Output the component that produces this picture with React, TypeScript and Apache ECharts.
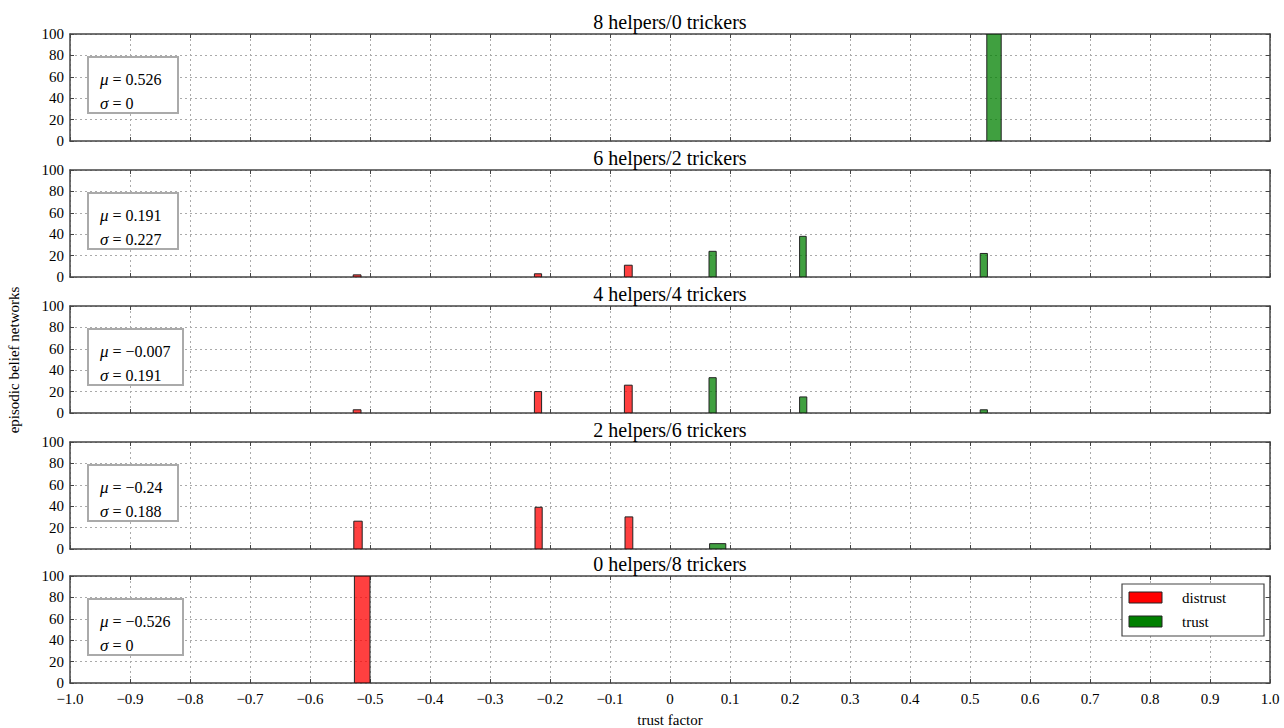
import React, { useEffect, useRef } from "react";
import * as echarts from "echarts";

// ---- data ----
const panelTitles = [
  "8 helpers/0 trickers",
  "6 helpers/2 trickers",
  "4 helpers/4 trickers",
  "2 helpers/6 trickers",
  "0 helpers/8 trickers",
];
const muValues = ["0.526", "0.191", "\u22120.007", "\u22120.24", "\u22120.526"];
const sigmaValues = ["0", "0.227", "0.191", "0.188", "0"];

// each bar: [left edge, right edge, count]
const distrustBars: number[][][] = [
  [],
  [[-0.528, -0.515, 2], [-0.226, -0.214, 3], [-0.076, -0.063, 11]],
  [[-0.528, -0.515, 3], [-0.226, -0.214, 20], [-0.076, -0.063, 26]],
  [[-0.527, -0.513, 26], [-0.225, -0.213, 39], [-0.075, -0.062, 30]],
  [[-0.526, -0.5, 100]],
];
const trustBars: number[][][] = [
  [[0.528, 0.552, 100]],
  [[0.065, 0.077, 24], [0.216, 0.227, 38], [0.517, 0.529, 22]],
  [[0.065, 0.077, 33], [0.216, 0.228, 15], [0.517, 0.529, 3]],
  [[0.066, 0.093, 5]],
  [],
];
const legendNames = ["distrust", "trust"];

// ---- layout/style ----
const FONT = '"Liberation Serif", "DejaVu Serif", serif';
const PLOT_LEFT = 70;
const PLOT_RIGHT = 1270;
const panelTops = [34, 170, 306, 442, 576];
const PANEL_H = 107;
const boxWidths = [90, 90, 95, 90, 95];
const BAR_FILL = ["rgba(255,0,0,0.75)", "rgba(0,128,0,0.75)"];
const LEGEND_FILL = ["#ff0000", "#008000"];
const FRAME = "#444";

function fmtX(v: number): string {
  const r = Math.round(v * 10) / 10;
  if (r === 0) return "0";
  const s = Math.abs(r).toFixed(1);
  return r < 0 ? "\u2212" + s : s;
}

export default function App() {
  const ref = useRef<HTMLDivElement>(null);
  useEffect(() => {
    if (!ref.current) return;
    const chart = echarts.init(ref.current, null, { renderer: "svg" });

    const grids: any[] = [];
    const xAxes: any[] = [];
    const yAxes: any[] = [];
    const series: any[] = [];
    const graphics: any[] = [];

    const frameLine = { show: true, onZero: false, lineStyle: { color: FRAME, width: 1.5 } };
    const tick = { show: true, inside: true, length: 4, lineStyle: { color: FRAME } };
    const grid = { show: true, lineStyle: { color: "#aaa", type: [2, 3], width: 1 } };

    panelTops.forEach((top, i) => {
      grids.push({
        left: PLOT_LEFT,
        width: PLOT_RIGHT - PLOT_LEFT,
        top,
        height: PANEL_H,
        containLabel: false,
      });
      const last = i === panelTops.length - 1;
      xAxes.push({
        type: "value",
        gridIndex: i,
        min: -1,
        max: 1,
        interval: 0.1,
        position: "bottom",
        axisLine: frameLine,
        axisTick: tick,
        axisLabel: {
          show: last,
          formatter: fmtX,
          color: "#000",
          fontSize: 15,
          fontFamily: FONT,
          margin: 8,
        },
        splitLine: grid,
      });
      xAxes.push({
        type: "value",
        gridIndex: i,
        min: -1,
        max: 1,
        interval: 0.1,
        position: "top",
        axisLine: frameLine,
        axisTick: tick,
        axisLabel: { show: false },
        splitLine: { show: false },
      });
      yAxes.push({
        type: "value",
        gridIndex: i,
        min: 0,
        max: 100,
        interval: 20,
        position: "left",
        axisLine: frameLine,
        axisTick: tick,
        axisLabel: { color: "#000", fontSize: 15, fontFamily: FONT, margin: 6 },
        splitLine: grid,
      });
      yAxes.push({
        type: "value",
        gridIndex: i,
        min: 0,
        max: 100,
        interval: 20,
        position: "right",
        axisLine: frameLine,
        axisTick: tick,
        axisLabel: { show: false },
        splitLine: { show: false },
      });

      [distrustBars[i], trustBars[i]].forEach((bars, k) => {
        series.push({
          type: "custom",
          name: legendNames[k],
          xAxisIndex: i * 2,
          yAxisIndex: i * 2,
          data: bars,
          encode: { x: [0, 1], y: 2 },
          clip: true,
          z: 5,
          renderItem: (params: any, api: any) => {
            const x0 = api.value(0);
            const x1 = api.value(1);
            const h = api.value(2);
            const p0 = api.coord([x0, 0]);
            const p1 = api.coord([x1, h]);
            return {
              type: "rect",
              shape: {
                x: p0[0],
                y: p1[1],
                width: p1[0] - p0[0],
                height: p0[1] - p1[1],
              },
              style: { fill: BAR_FILL[k], stroke: "#222", lineWidth: 1 },
            };
          },
        });
      });

      graphics.push({
        type: "text",
        x: (PLOT_LEFT + PLOT_RIGHT) / 2,
        y: top - 12,
        style: {
          text: panelTitles[i],
          font: `20px ${FONT}`,
          fill: "#000",
          textAlign: "center",
          textVerticalAlign: "middle",
        },
        z: 10,
      });
      graphics.push({
        type: "rect",
        shape: { x: 88, y: top + 23, width: boxWidths[i], height: 56 },
        style: { fill: "#fff", stroke: "#aaa", lineWidth: 2 },
        z: 10,
      });
      graphics.push({
        type: "text",
        x: 100,
        y: top + 45,
        style: {
          text: `{i|\u03bc} = ${muValues[i]}`,
          font: `16px ${FONT}`,
          fill: "#000",
          textVerticalAlign: "middle",
          rich: { i: { fontStyle: "italic", fontSize: 17, fontFamily: FONT } },
        },
        z: 11,
      });
      graphics.push({
        type: "text",
        x: 100,
        y: top + 69,
        style: {
          text: `{i|\u03c3} = ${sigmaValues[i]}`,
          font: `16px ${FONT}`,
          fill: "#000",
          textVerticalAlign: "middle",
          rich: { i: { fontStyle: "italic", fontSize: 17, fontFamily: FONT } },
        },
        z: 11,
      });
    });

    // legend
    graphics.push({
      type: "rect",
      shape: { x: 1122, y: 584, width: 142, height: 52 },
      style: { fill: "#fff", stroke: "#444", lineWidth: 1.2 },
      z: 10,
    });
    legendNames.forEach((name, k) => {
      graphics.push({
        type: "rect",
        shape: { x: 1129, y: 592 + k * 24, width: 33, height: 11 },
        style: { fill: LEGEND_FILL[k], stroke: "#222", lineWidth: 1 },
        z: 11,
      });
      graphics.push({
        type: "text",
        x: 1182,
        y: 598 + k * 24,
        style: {
          text: name,
          font: `15px ${FONT}`,
          fill: "#000",
          textVerticalAlign: "middle",
        },
        z: 11,
      });
    });

    graphics.push({
      type: "text",
      x: (PLOT_LEFT + PLOT_RIGHT) / 2,
      y: 720,
      style: {
        text: "trust factor",
        font: `15px ${FONT}`,
        fill: "#000",
        textAlign: "center",
        textVerticalAlign: "middle",
      },
    });
    graphics.push({
      type: "text",
      x: 14,
      y: 360,
      rotation: Math.PI / 2,
      style: {
        text: "episodic belief networks",
        font: `15px ${FONT}`,
        fill: "#000",
        textAlign: "center",
        textVerticalAlign: "middle",
      },
    });

    chart.setOption({
      animation: false,
      backgroundColor: "#fff",
      grid: grids,
      xAxis: xAxes,
      yAxis: yAxes,
      series,
      graphic: graphics,
    });
    return () => chart.dispose();
  }, []);
  return (
    <div
      ref={ref}
      style={{ position: "absolute", left: 0, top: 0, width: 1284, height: 728 }}
    />
  );
}
